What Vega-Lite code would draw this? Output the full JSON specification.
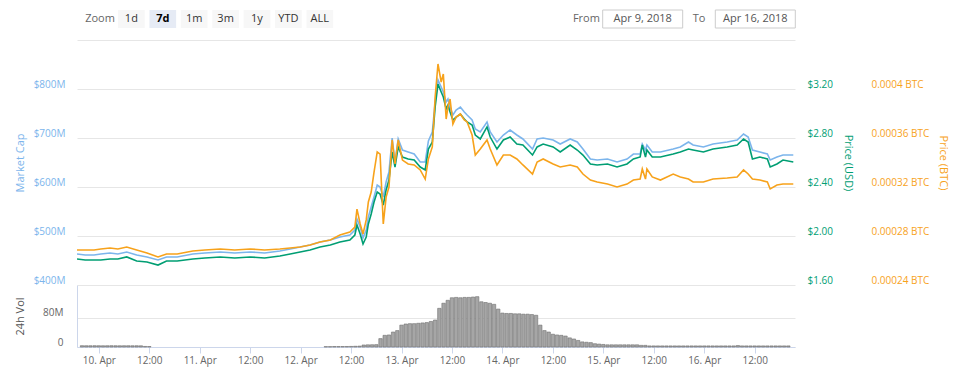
{
  "$schema": "https://vega.github.io/schema/vega-lite/v6.json",
  "background": "white",
  "padding": {"left": 14, "top": 9, "right": 11, "bottom": 5},
  "config": {
    "font": "Open Sans",
    "view": {"stroke": null},
    "axis": {"labelFont": "Open Sans", "titleFont": "Open Sans"}
  },
  "datasets": {
    "zoom": [
      {"item": "Zoom", "state": "label"},
      {"item": "1d", "state": "off"},
      {"item": "7d", "state": "on"},
      {"item": "1m", "state": "off"},
      {"item": "3m", "state": "off"},
      {"item": "1y", "state": "off"},
      {"item": "YTD", "state": "off"},
      {"item": "ALL", "state": "off"}
    ],
    "range": [
      {"item": "From", "kind": "label"},
      {"item": "Apr 9, 2018", "kind": "input"},
      {"item": "To", "kind": "label"},
      {"item": "Apr 16, 2018", "kind": "input"}
    ],
    "price": [
      {"time": "2018-04-09T20:00Z", "market_cap": 463300000, "price_usd": 1.812, "price_btc": 0.0002686},
      {"time": "2018-04-09T21:55Z", "market_cap": 461200000, "price_usd": 1.804, "price_btc": 0.0002686},
      {"time": "2018-04-10T00:00Z", "market_cap": 461200000, "price_usd": 1.804, "price_btc": 0.0002686},
      {"time": "2018-04-10T01:35Z", "market_cap": 463300000, "price_usd": 1.804, "price_btc": 0.0002694},
      {"time": "2018-04-10T03:45Z", "market_cap": 465300000, "price_usd": 1.812, "price_btc": 0.0002702},
      {"time": "2018-04-10T05:35Z", "market_cap": 463300000, "price_usd": 1.812, "price_btc": 0.0002694},
      {"time": "2018-04-10T07:40Z", "market_cap": 467300000, "price_usd": 1.829, "price_btc": 0.0002710},
      {"time": "2018-04-10T10:00Z", "market_cap": 461200000, "price_usd": 1.796, "price_btc": 0.0002686},
      {"time": "2018-04-10T12:25Z", "market_cap": 457100000, "price_usd": 1.788, "price_btc": 0.0002661},
      {"time": "2018-04-10T15:00Z", "market_cap": 451000000, "price_usd": 1.763, "price_btc": 0.0002629},
      {"time": "2018-04-10T17:00Z", "market_cap": 457100000, "price_usd": 1.796, "price_btc": 0.0002653},
      {"time": "2018-04-10T19:30Z", "market_cap": 457100000, "price_usd": 1.796, "price_btc": 0.0002653},
      {"time": "2018-04-10T23:10Z", "market_cap": 463300000, "price_usd": 1.812, "price_btc": 0.0002678},
      {"time": "2018-04-11T02:00Z", "market_cap": 465300000, "price_usd": 1.820, "price_btc": 0.0002686},
      {"time": "2018-04-11T05:35Z", "market_cap": 467300000, "price_usd": 1.829, "price_btc": 0.0002694},
      {"time": "2018-04-11T09:00Z", "market_cap": 465300000, "price_usd": 1.820, "price_btc": 0.0002686},
      {"time": "2018-04-11T12:35Z", "market_cap": 467300000, "price_usd": 1.829, "price_btc": 0.0002694},
      {"time": "2018-04-11T16:00Z", "market_cap": 465300000, "price_usd": 1.820, "price_btc": 0.0002686},
      {"time": "2018-04-11T19:35Z", "market_cap": 469400000, "price_usd": 1.837, "price_btc": 0.0002694},
      {"time": "2018-04-11T22:00Z", "market_cap": 473500000, "price_usd": 1.853, "price_btc": 0.0002702},
      {"time": "2018-04-12T00:20Z", "market_cap": 477600000, "price_usd": 1.869, "price_btc": 0.0002710},
      {"time": "2018-04-12T02:40Z", "market_cap": 481600000, "price_usd": 1.886, "price_btc": 0.0002727},
      {"time": "2018-04-12T05:00Z", "market_cap": 487800000, "price_usd": 1.910, "price_btc": 0.0002751},
      {"time": "2018-04-12T07:25Z", "market_cap": 491800000, "price_usd": 1.927, "price_btc": 0.0002767},
      {"time": "2018-04-12T09:40Z", "market_cap": 498000000, "price_usd": 1.951, "price_btc": 0.0002808},
      {"time": "2018-04-12T12:00Z", "market_cap": 502000000, "price_usd": 1.967, "price_btc": 0.0002833},
      {"time": "2018-04-12T13:10Z", "market_cap": 512200000, "price_usd": 2.008, "price_btc": 0.0002873},
      {"time": "2018-04-12T13:40Z", "market_cap": 534700000, "price_usd": 2.090, "price_btc": 0.0003020},
      {"time": "2018-04-12T14:25Z", "market_cap": 518400000, "price_usd": 2.016, "price_btc": 0.0002898},
      {"time": "2018-04-12T15:05Z", "market_cap": 495900000, "price_usd": 1.935, "price_btc": 0.0002816},
      {"time": "2018-04-12T15:50Z", "market_cap": 512200000, "price_usd": 1.992, "price_btc": 0.0002931},
      {"time": "2018-04-12T16:20Z", "market_cap": 538800000, "price_usd": 2.098, "price_btc": 0.0003078},
      {"time": "2018-04-12T17:00Z", "market_cap": 559200000, "price_usd": 2.180, "price_btc": 0.0003159},
      {"time": "2018-04-12T17:40Z", "market_cap": 579600000, "price_usd": 2.278, "price_btc": 0.0003322},
      {"time": "2018-04-12T18:25Z", "market_cap": 604100000, "price_usd": 2.359, "price_btc": 0.0003486},
      {"time": "2018-04-12T19:05Z", "market_cap": 600000000, "price_usd": 2.343, "price_btc": 0.0003469},
      {"time": "2018-04-12T19:50Z", "market_cap": 579600000, "price_usd": 2.253, "price_btc": 0.0002898},
      {"time": "2018-04-12T20:30Z", "market_cap": 610200000, "price_usd": 2.376, "price_btc": 0.0003118},
      {"time": "2018-04-12T21:10Z", "market_cap": 630600000, "price_usd": 2.457, "price_btc": 0.0003200},
      {"time": "2018-04-12T21:55Z", "market_cap": 700000000, "price_usd": 2.686, "price_btc": 0.0003584},
      {"time": "2018-04-12T22:35Z", "market_cap": 651000000, "price_usd": 2.563, "price_btc": 0.0003388},
      {"time": "2018-04-12T23:20Z", "market_cap": 698000000, "price_usd": 2.727, "price_btc": 0.0003584},
      {"time": "2018-04-13T00:20Z", "market_cap": 675500000, "price_usd": 2.645, "price_btc": 0.0003420},
      {"time": "2018-04-13T01:40Z", "market_cap": 671400000, "price_usd": 2.629, "price_btc": 0.0003388},
      {"time": "2018-04-13T03:05Z", "market_cap": 667300000, "price_usd": 2.620, "price_btc": 0.0003380},
      {"time": "2018-04-13T04:30Z", "market_cap": 651000000, "price_usd": 2.563, "price_btc": 0.0003339},
      {"time": "2018-04-13T05:40Z", "market_cap": 651000000, "price_usd": 2.539, "price_btc": 0.0003265},
      {"time": "2018-04-13T06:25Z", "market_cap": 693900000, "price_usd": 2.710, "price_btc": 0.0003429},
      {"time": "2018-04-13T07:20Z", "market_cap": 712200000, "price_usd": 2.767, "price_btc": 0.0003527},
      {"time": "2018-04-13T08:00Z", "market_cap": 773500000, "price_usd": 3.053, "price_btc": 0.0003935},
      {"time": "2018-04-13T08:40Z", "market_cap": 818400000, "price_usd": 3.241, "price_btc": 0.0004204},
      {"time": "2018-04-13T09:25Z", "market_cap": 804100000, "price_usd": 3.176, "price_btc": 0.0004057},
      {"time": "2018-04-13T09:55Z", "market_cap": 793900000, "price_usd": 3.135, "price_btc": 0.0004122},
      {"time": "2018-04-13T10:35Z", "market_cap": 773500000, "price_usd": 3.037, "price_btc": 0.0003755},
      {"time": "2018-04-13T11:00Z", "market_cap": 779600000, "price_usd": 3.069, "price_btc": 0.0003853},
      {"time": "2018-04-13T11:30Z", "market_cap": 763300000, "price_usd": 3.012, "price_btc": 0.0003918},
      {"time": "2018-04-13T12:10Z", "market_cap": 746900000, "price_usd": 2.947, "price_btc": 0.0003714},
      {"time": "2018-04-13T12:55Z", "market_cap": 757100000, "price_usd": 2.971, "price_btc": 0.0003771},
      {"time": "2018-04-13T13:55Z", "market_cap": 763300000, "price_usd": 2.996, "price_btc": 0.0003796},
      {"time": "2018-04-13T14:50Z", "market_cap": 753100000, "price_usd": 2.955, "price_btc": 0.0003747},
      {"time": "2018-04-13T15:30Z", "market_cap": 746900000, "price_usd": 2.931, "price_btc": 0.0003731},
      {"time": "2018-04-13T16:40Z", "market_cap": 736700000, "price_usd": 2.906, "price_btc": 0.0003624},
      {"time": "2018-04-13T17:25Z", "market_cap": 718400000, "price_usd": 2.824, "price_btc": 0.0003461},
      {"time": "2018-04-13T18:35Z", "market_cap": 712200000, "price_usd": 2.792, "price_btc": 0.0003510},
      {"time": "2018-04-13T20:10Z", "market_cap": 732700000, "price_usd": 2.890, "price_btc": 0.0003584},
      {"time": "2018-04-13T20:55Z", "market_cap": 712200000, "price_usd": 2.808, "price_btc": 0.0003510},
      {"time": "2018-04-13T22:30Z", "market_cap": 691800000, "price_usd": 2.710, "price_btc": 0.0003380},
      {"time": "2018-04-14T00:00Z", "market_cap": 706100000, "price_usd": 2.784, "price_btc": 0.0003461},
      {"time": "2018-04-14T01:35Z", "market_cap": 716300000, "price_usd": 2.808, "price_btc": 0.0003461},
      {"time": "2018-04-14T03:10Z", "market_cap": 706100000, "price_usd": 2.751, "price_btc": 0.0003429},
      {"time": "2018-04-14T04:35Z", "market_cap": 698000000, "price_usd": 2.743, "price_btc": 0.0003380},
      {"time": "2018-04-14T06:50Z", "market_cap": 677600000, "price_usd": 2.661, "price_btc": 0.0003306},
      {"time": "2018-04-14T07:55Z", "market_cap": 698000000, "price_usd": 2.727, "price_btc": 0.0003404},
      {"time": "2018-04-14T09:20Z", "market_cap": 700000000, "price_usd": 2.751, "price_btc": 0.0003429},
      {"time": "2018-04-14T11:40Z", "market_cap": 695900000, "price_usd": 2.727, "price_btc": 0.0003388},
      {"time": "2018-04-14T13:20Z", "market_cap": 687800000, "price_usd": 2.686, "price_btc": 0.0003363},
      {"time": "2018-04-14T15:40Z", "market_cap": 698000000, "price_usd": 2.743, "price_btc": 0.0003380},
      {"time": "2018-04-14T17:20Z", "market_cap": 691800000, "price_usd": 2.702, "price_btc": 0.0003363},
      {"time": "2018-04-14T18:40Z", "market_cap": 677600000, "price_usd": 2.661, "price_btc": 0.0003306},
      {"time": "2018-04-14T20:25Z", "market_cap": 657100000, "price_usd": 2.588, "price_btc": 0.0003257},
      {"time": "2018-04-14T22:00Z", "market_cap": 655100000, "price_usd": 2.580, "price_btc": 0.0003241},
      {"time": "2018-04-15T00:25Z", "market_cap": 657100000, "price_usd": 2.588, "price_btc": 0.0003224},
      {"time": "2018-04-15T02:40Z", "market_cap": 651000000, "price_usd": 2.563, "price_btc": 0.0003200},
      {"time": "2018-04-15T05:00Z", "market_cap": 657100000, "price_usd": 2.588, "price_btc": 0.0003224},
      {"time": "2018-04-15T06:30Z", "market_cap": 667300000, "price_usd": 2.629, "price_btc": 0.0003257},
      {"time": "2018-04-15T08:05Z", "market_cap": 667300000, "price_usd": 2.645, "price_btc": 0.0003265},
      {"time": "2018-04-15T08:35Z", "market_cap": 687800000, "price_usd": 2.743, "price_btc": 0.0003347},
      {"time": "2018-04-15T09:20Z", "market_cap": 675500000, "price_usd": 2.645, "price_btc": 0.0003265},
      {"time": "2018-04-15T09:40Z", "market_cap": 685700000, "price_usd": 2.702, "price_btc": 0.0003347},
      {"time": "2018-04-15T10:55Z", "market_cap": 671400000, "price_usd": 2.645, "price_btc": 0.0003282},
      {"time": "2018-04-15T12:50Z", "market_cap": 671400000, "price_usd": 2.645, "price_btc": 0.0003257},
      {"time": "2018-04-15T15:50Z", "market_cap": 677600000, "price_usd": 2.669, "price_btc": 0.0003306},
      {"time": "2018-04-15T17:30Z", "market_cap": 681600000, "price_usd": 2.686, "price_btc": 0.0003282},
      {"time": "2018-04-15T19:25Z", "market_cap": 691800000, "price_usd": 2.710, "price_btc": 0.0003265},
      {"time": "2018-04-15T20:30Z", "market_cap": 685700000, "price_usd": 2.702, "price_btc": 0.0003241},
      {"time": "2018-04-15T22:55Z", "market_cap": 681600000, "price_usd": 2.686, "price_btc": 0.0003241},
      {"time": "2018-04-16T01:10Z", "market_cap": 687800000, "price_usd": 2.710, "price_btc": 0.0003265},
      {"time": "2018-04-16T04:30Z", "market_cap": 691800000, "price_usd": 2.727, "price_btc": 0.0003273},
      {"time": "2018-04-16T06:50Z", "market_cap": 695900000, "price_usd": 2.743, "price_btc": 0.0003282},
      {"time": "2018-04-16T08:20Z", "market_cap": 708200000, "price_usd": 2.792, "price_btc": 0.0003339},
      {"time": "2018-04-16T09:25Z", "market_cap": 702000000, "price_usd": 2.767, "price_btc": 0.0003306},
      {"time": "2018-04-16T10:25Z", "market_cap": 675500000, "price_usd": 2.629, "price_btc": 0.0003265},
      {"time": "2018-04-16T12:10Z", "market_cap": 671400000, "price_usd": 2.645, "price_btc": 0.0003257},
      {"time": "2018-04-16T13:55Z", "market_cap": 667300000, "price_usd": 2.629, "price_btc": 0.0003241},
      {"time": "2018-04-16T14:35Z", "market_cap": 655100000, "price_usd": 2.563, "price_btc": 0.0003184},
      {"time": "2018-04-16T16:10Z", "market_cap": 661200000, "price_usd": 2.588, "price_btc": 0.0003216},
      {"time": "2018-04-16T17:35Z", "market_cap": 665300000, "price_usd": 2.620, "price_btc": 0.0003224},
      {"time": "2018-04-16T20:00Z", "market_cap": 665300000, "price_usd": 2.604, "price_btc": 0.0003224}
    ],
    "volume": [
      {"time": "2018-04-09T20:00Z", "volume": 3600000},
      {"time": "2018-04-09T21:00Z", "volume": 3500000},
      {"time": "2018-04-09T22:00Z", "volume": 3500000},
      {"time": "2018-04-09T23:00Z", "volume": 3600000},
      {"time": "2018-04-10T00:00Z", "volume": 3500000},
      {"time": "2018-04-10T01:00Z", "volume": 3400000},
      {"time": "2018-04-10T02:00Z", "volume": 3500000},
      {"time": "2018-04-10T03:00Z", "volume": 3600000},
      {"time": "2018-04-10T04:00Z", "volume": 3500000},
      {"time": "2018-04-10T05:00Z", "volume": 3400000},
      {"time": "2018-04-10T06:00Z", "volume": 3500000},
      {"time": "2018-04-10T07:00Z", "volume": 3500000},
      {"time": "2018-04-10T08:00Z", "volume": 3400000},
      {"time": "2018-04-10T09:00Z", "volume": 3500000},
      {"time": "2018-04-10T10:00Z", "volume": 3300000},
      {"time": "2018-04-10T11:00Z", "volume": 1500000},
      {"time": "2018-04-10T12:00Z", "volume": 1300000},
      {"time": "2018-04-12T06:00Z", "volume": 1000000},
      {"time": "2018-04-12T07:00Z", "volume": 1000000},
      {"time": "2018-04-12T08:00Z", "volume": 1200000},
      {"time": "2018-04-12T09:00Z", "volume": 1200000},
      {"time": "2018-04-12T10:00Z", "volume": 1300000},
      {"time": "2018-04-12T11:00Z", "volume": 1400000},
      {"time": "2018-04-12T12:00Z", "volume": 1600000},
      {"time": "2018-04-12T13:00Z", "volume": 2000000},
      {"time": "2018-04-12T14:00Z", "volume": 2400000},
      {"time": "2018-04-12T15:00Z", "volume": 5500000},
      {"time": "2018-04-12T16:00Z", "volume": 6000000},
      {"time": "2018-04-12T17:00Z", "volume": 6200000},
      {"time": "2018-04-12T18:00Z", "volume": 6500000},
      {"time": "2018-04-12T19:00Z", "volume": 23000000},
      {"time": "2018-04-12T20:00Z", "volume": 32000000},
      {"time": "2018-04-12T21:00Z", "volume": 33000000},
      {"time": "2018-04-12T22:00Z", "volume": 41000000},
      {"time": "2018-04-12T23:00Z", "volume": 45000000},
      {"time": "2018-04-13T00:00Z", "volume": 60000000},
      {"time": "2018-04-13T01:00Z", "volume": 63000000},
      {"time": "2018-04-13T02:00Z", "volume": 64000000},
      {"time": "2018-04-13T03:00Z", "volume": 64000000},
      {"time": "2018-04-13T04:00Z", "volume": 65000000},
      {"time": "2018-04-13T05:00Z", "volume": 66000000},
      {"time": "2018-04-13T06:00Z", "volume": 67000000},
      {"time": "2018-04-13T07:00Z", "volume": 70000000},
      {"time": "2018-04-13T08:00Z", "volume": 74000000},
      {"time": "2018-04-13T09:00Z", "volume": 106000000},
      {"time": "2018-04-13T10:00Z", "volume": 120000000},
      {"time": "2018-04-13T11:00Z", "volume": 128000000},
      {"time": "2018-04-13T12:00Z", "volume": 135000000},
      {"time": "2018-04-13T13:00Z", "volume": 136000000},
      {"time": "2018-04-13T14:00Z", "volume": 135000000},
      {"time": "2018-04-13T15:00Z", "volume": 136000000},
      {"time": "2018-04-13T16:00Z", "volume": 136000000},
      {"time": "2018-04-13T17:00Z", "volume": 137000000},
      {"time": "2018-04-13T18:00Z", "volume": 138000000},
      {"time": "2018-04-13T19:00Z", "volume": 124000000},
      {"time": "2018-04-13T20:00Z", "volume": 122000000},
      {"time": "2018-04-13T21:00Z", "volume": 120000000},
      {"time": "2018-04-13T22:00Z", "volume": 117000000},
      {"time": "2018-04-13T23:00Z", "volume": 104000000},
      {"time": "2018-04-14T00:00Z", "volume": 93000000},
      {"time": "2018-04-14T01:00Z", "volume": 92000000},
      {"time": "2018-04-14T02:00Z", "volume": 92000000},
      {"time": "2018-04-14T03:00Z", "volume": 91000000},
      {"time": "2018-04-14T04:00Z", "volume": 91000000},
      {"time": "2018-04-14T05:00Z", "volume": 90000000},
      {"time": "2018-04-14T06:00Z", "volume": 90000000},
      {"time": "2018-04-14T07:00Z", "volume": 89000000},
      {"time": "2018-04-14T08:00Z", "volume": 87000000},
      {"time": "2018-04-14T09:00Z", "volume": 60000000},
      {"time": "2018-04-14T10:00Z", "volume": 45000000},
      {"time": "2018-04-14T11:00Z", "volume": 41000000},
      {"time": "2018-04-14T12:00Z", "volume": 35000000},
      {"time": "2018-04-14T13:00Z", "volume": 33000000},
      {"time": "2018-04-14T14:00Z", "volume": 32000000},
      {"time": "2018-04-14T15:00Z", "volume": 30000000},
      {"time": "2018-04-14T16:00Z", "volume": 25000000},
      {"time": "2018-04-14T17:00Z", "volume": 22000000},
      {"time": "2018-04-14T18:00Z", "volume": 18000000},
      {"time": "2018-04-14T19:00Z", "volume": 14000000},
      {"time": "2018-04-14T20:00Z", "volume": 13000000},
      {"time": "2018-04-14T21:00Z", "volume": 12000000},
      {"time": "2018-04-14T22:00Z", "volume": 9000000},
      {"time": "2018-04-14T23:00Z", "volume": 8000000},
      {"time": "2018-04-15T00:00Z", "volume": 7000000},
      {"time": "2018-04-15T01:00Z", "volume": 6000000},
      {"time": "2018-04-15T02:00Z", "volume": 6000000},
      {"time": "2018-04-15T03:00Z", "volume": 6000000},
      {"time": "2018-04-15T04:00Z", "volume": 6000000},
      {"time": "2018-04-15T05:00Z", "volume": 6000000},
      {"time": "2018-04-15T06:00Z", "volume": 6000000},
      {"time": "2018-04-15T07:00Z", "volume": 6000000},
      {"time": "2018-04-15T08:00Z", "volume": 6000000},
      {"time": "2018-04-15T09:00Z", "volume": 4500000},
      {"time": "2018-04-15T10:00Z", "volume": 4500000},
      {"time": "2018-04-15T11:00Z", "volume": 3000000},
      {"time": "2018-04-15T12:00Z", "volume": 3000000},
      {"time": "2018-04-15T13:00Z", "volume": 3000000},
      {"time": "2018-04-15T14:00Z", "volume": 3000000},
      {"time": "2018-04-15T15:00Z", "volume": 3000000},
      {"time": "2018-04-15T16:00Z", "volume": 3000000},
      {"time": "2018-04-15T17:00Z", "volume": 3000000},
      {"time": "2018-04-15T18:00Z", "volume": 3000000},
      {"time": "2018-04-15T19:00Z", "volume": 3000000},
      {"time": "2018-04-15T20:00Z", "volume": 3000000},
      {"time": "2018-04-15T21:00Z", "volume": 3000000},
      {"time": "2018-04-15T22:00Z", "volume": 3000000},
      {"time": "2018-04-15T23:00Z", "volume": 3000000},
      {"time": "2018-04-16T00:00Z", "volume": 3000000},
      {"time": "2018-04-16T01:00Z", "volume": 3000000},
      {"time": "2018-04-16T02:00Z", "volume": 3000000},
      {"time": "2018-04-16T03:00Z", "volume": 3000000},
      {"time": "2018-04-16T04:00Z", "volume": 3000000},
      {"time": "2018-04-16T05:00Z", "volume": 3000000},
      {"time": "2018-04-16T06:00Z", "volume": 3000000},
      {"time": "2018-04-16T07:00Z", "volume": 3000000},
      {"time": "2018-04-16T08:00Z", "volume": 4000000},
      {"time": "2018-04-16T09:00Z", "volume": 3000000},
      {"time": "2018-04-16T10:00Z", "volume": 3000000},
      {"time": "2018-04-16T11:00Z", "volume": 3000000},
      {"time": "2018-04-16T12:00Z", "volume": 3000000},
      {"time": "2018-04-16T13:00Z", "volume": 3000000},
      {"time": "2018-04-16T14:00Z", "volume": 3000000},
      {"time": "2018-04-16T15:00Z", "volume": 3000000},
      {"time": "2018-04-16T16:00Z", "volume": 3000000},
      {"time": "2018-04-16T17:00Z", "volume": 3000000},
      {"time": "2018-04-16T18:00Z", "volume": 3000000},
      {"time": "2018-04-16T19:00Z", "volume": 3000000},
      {"time": "2018-04-16T20:00Z", "volume": 3000000}
    ]
  },
  "spacing": 11,
  "vconcat": [
    {
      "spacing": 203.25,
      "hconcat": [
        {
          "width": 277.9,
          "height": 18,
          "data": {"name": "zoom"},
          "encoding": {
            "x": {
              "field": "item", "type": "nominal",
              "scale": {"type": "band", "domain": ["Zoom", "1d", "7d", "1m", "3m", "1y", "YTD", "ALL"], "paddingInner": 0.15, "paddingOuter": 0.5, "align": 0.307},
              "axis": null
            }
          },
          "layer": [
            {"transform": [{"filter": "datum.state == 'off'"}], "mark": {"type": "rect", "fill": "#f7f7f7"}},
            {"transform": [{"filter": "datum.state == 'on'"}], "mark": {"type": "rect", "fill": "#e6ebf5"}},
            {"transform": [{"filter": "datum.state == 'label'"}], "mark": {"type": "text", "fontSize": 11, "color": "#666666", "baseline": "middle"}, "encoding": {"text": {"field": "item"}}},
            {"transform": [{"filter": "datum.state == 'off'"}], "mark": {"type": "text", "fontSize": 11, "color": "#333333", "baseline": "middle"}, "encoding": {"text": {"field": "item"}}},
            {"transform": [{"filter": "datum.state == 'on'"}], "mark": {"type": "text", "fontSize": 11, "fontWeight": "bold", "color": "#000000", "baseline": "middle"}, "encoding": {"text": {"field": "item"}}}
          ]
        },
        {
          "width": 225.2,
          "height": 18,
          "data": {"name": "range"},
          "encoding": {
            "x": {
              "field": "item", "type": "nominal",
              "scale": {"type": "band", "domain": ["From", "Apr 9, 2018", "To", "Apr 16, 2018"], "paddingInner": 0, "paddingOuter": 0},
              "axis": null
            }
          },
          "layer": [
            {"transform": [{"filter": "datum.kind == 'input'"}], "mark": {"type": "rect", "width": 80, "fill": "#ffffff", "stroke": "#cccccc", "strokeWidth": 1}},
            {"transform": [{"filter": "datum.kind == 'label'"}], "mark": {"type": "text", "fontSize": 11, "color": "#666666", "baseline": "middle"}, "encoding": {"text": {"field": "item"}}},
            {"transform": [{"filter": "datum.kind == 'input'"}], "mark": {"type": "text", "fontSize": 11, "color": "#555555", "baseline": "middle"}, "encoding": {"text": {"field": "item"}}}
          ]
        }
      ]
    },
    {
      "spacing": 0,
      "vconcat": [
        {
          "width": 718,
          "height": 245,
          "data": {"name": "price"},
          "encoding": {
            "x": {
              "field": "time", "type": "temporal",
              "scale": {"type": "utc", "domain": [1523304000000, 1523910240000]},
              "axis": null
            }
          },
          "layer": [
            {
              "mark": {"type": "line", "color": "#7cb5ec", "strokeWidth": 1.6, "clip": true},
              "encoding": {
                "y": {
                  "field": "market_cap", "type": "quantitative",
                  "scale": {"domain": [400000000, 900000000], "nice": false, "zero": false},
                  "axis": {
                    "orient": "left", "title": "Market Cap",
                    "values": [400000000, 500000000, 600000000, 700000000, 800000000, 900000000],
                    "labelExpr": "datum.value >= 890000000 ? '' : '$' + round(datum.value / 1000000) + 'M'",
                    "grid": true, "gridColor": "#e6e6e6", "domain": false, "ticks": false,
                    "labelColor": "#7cb5ec", "titleColor": "#7cb5ec",
                    "labelFontSize": 10, "titleFontSize": 11, "titleFontWeight": "normal",
                    "labelPadding": 12, "titlePadding": 6, "minExtent": 46, "maxExtent": 46, "labelOffset": -5
                  }
                }
              }
            },
            {
              "mark": {"type": "line", "color": "#009e73", "strokeWidth": 1.6, "clip": true},
              "encoding": {
                "y": {
                  "field": "price_usd", "type": "quantitative",
                  "scale": {"domain": [1.6, 3.6], "nice": false, "zero": false},
                  "axis": {
                    "orient": "right", "title": "Price (USD)",
                    "values": [1.6, 2.0, 2.4, 2.8, 3.2, 3.6],
                    "labelExpr": "datum.value > 3.5 ? '' : '$' + format(datum.value, '.2f')",
                    "grid": false, "domain": false, "ticks": false,
                    "labelColor": "#009e73", "titleColor": "#009e73",
                    "labelFontSize": 10, "titleFontSize": 11, "titleFontWeight": "normal",
                    "labelPadding": 12, "titlePadding": 9, "minExtent": 38, "maxExtent": 38, "labelOffset": -5
                  }
                }
              }
            },
            {
              "mark": {"type": "line", "color": "#f7a21b", "strokeWidth": 1.6, "clip": true},
              "encoding": {
                "y": {
                  "field": "price_btc", "type": "quantitative",
                  "scale": {"domain": [0.00024, 0.00044], "nice": false, "zero": false},
                  "axis": {
                    "orient": "right", "offset": 64, "title": "Price (BTC)",
                    "values": [0.00024, 0.00028, 0.00032, 0.00036, 0.0004, 0.00044],
                    "labelExpr": "datum.value > 0.00043 ? '' : format(datum.value, '~g') + ' BTC'",
                    "grid": false, "domain": false, "ticks": false,
                    "labelColor": "#f7a21b", "titleColor": "#f7a21b",
                    "labelFontSize": 10, "titleFontSize": 11, "titleFontWeight": "normal",
                    "labelPadding": 12, "titlePadding": 6, "minExtent": 72, "maxExtent": 72, "labelOffset": -5
                  }
                }
              }
            }
          ],
          "resolve": {"scale": {"y": "independent"}}
        },
        {
          "width": 718,
          "height": 62,
          "data": {"name": "volume"},
          "mark": {"type": "bar", "width": 3.4, "fill": "#a6a6a6", "stroke": "#6e6e6e", "strokeWidth": 0.6},
          "encoding": {
            "x": {
              "field": "time", "type": "temporal",
              "scale": {"type": "utc", "domain": [1523304000000, 1523910240000]},
              "axis": {
                "title": null,
                "values": [1523318400000, 1523361600000, 1523404800000, 1523448000000, 1523491200000, 1523534400000, 1523577600000, 1523620800000, 1523664000000, 1523707200000, 1523750400000, 1523793600000, 1523836800000, 1523880000000],
                "labelExpr": "utcFormat(datum.value, '%H') == '00' ? utcFormat(datum.value, '%-d. %b') : utcFormat(datum.value, '%H:%M')",
                "grid": false, "domainColor": "#ccd6eb", "tickColor": "#ccd6eb", "tickSize": 6,
                "labelColor": "#666666", "labelFontSize": 10, "labelPadding": 2,
                "labelFlush": false, "labelOverlap": false
              }
            },
            "y": {
              "field": "volume", "type": "quantitative",
              "scale": {"domain": [0, 170000000], "nice": false},
              "axis": {
                "title": "24h Vol",
                "values": [0, 80000000],
                "labelExpr": "datum.value == 0 ? '0' : round(datum.value / 1000000) + 'M'",
                "grid": true, "gridColor": "#e6e6e6", "domain": true, "domainColor": "#ccd6eb", "ticks": false,
                "labelColor": "#666666", "titleColor": "#555555",
                "labelFontSize": 10, "titleFontSize": 11, "titleFontWeight": "normal",
                "labelPadding": 14, "titlePadding": 6, "minExtent": 46, "maxExtent": 46, "labelOffset": -5
              }
            }
          }
        }
      ]
    }
  ]
}
